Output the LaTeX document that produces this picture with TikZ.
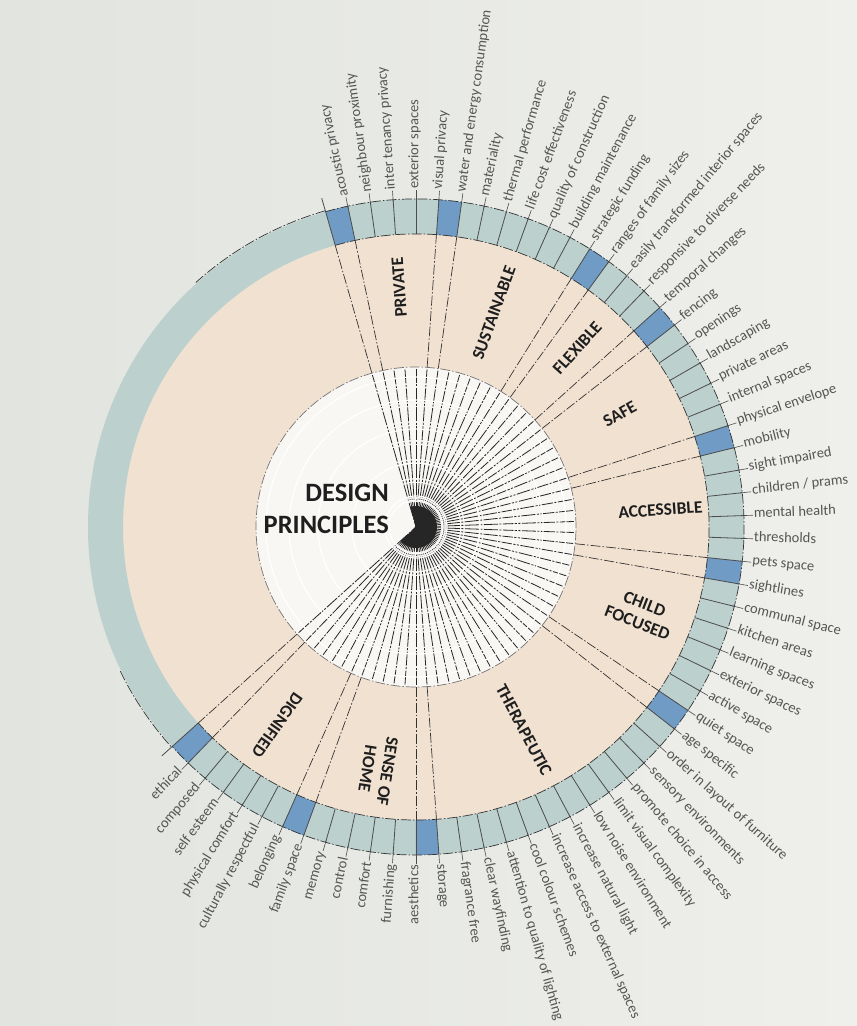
\documentclass[tikz,border=0pt]{standalone}
\usepackage{fontspec}
\setmainfont{Carlito}
\definecolor{bgleft}{RGB}{225,228,223}
\definecolor{bgright}{RGB}{239,239,235}
\definecolor{peach}{RGB}{241,225,209}
\definecolor{ringteal}{RGB}{188,208,206}
\definecolor{cellblue}{RGB}{111,155,196}
\definecolor{core}{RGB}{249,247,244}
\definecolor{ink}{RGB}{30,30,30}
\definecolor{labelgray}{RGB}{85,85,85}
\tikzset{
  dashdot/.style={line width=0.7pt,draw=black!80,dash pattern=on 10pt off 2pt on 1.5pt off 2pt},
  cellline/.style={draw=black!70,line width=0.8pt},
  spoke/.style={draw=black!85,line width=0.8pt,dash pattern=on 14pt off 1.5pt on 2pt off 1.5pt},
  item/.style={text=labelgray,font=\fontsize{14.5}{16}\selectfont,inner sep=1pt},
  group/.style={text=ink,font=\bfseries\fontsize{17.5}{20}\selectfont,align=center,inner sep=0pt},
}
\begin{document}
\begin{tikzpicture}[x=1pt,y=1pt]
\shade[left color=bgleft,right color=bgright] (-416,-499) rectangle (441,527);
\useasboundingbox (-416,-499) rectangle (441,527);
\fill[peach] (0,0) circle[radius=293];
\fill[ringteal,even odd rule] (0,0) circle[radius=328] (0,0) circle[radius=293];
\foreach \d in {1,6,13,17,23,29,36,49,55,61}
  \fill[cellblue] ({110-4*\d}:293) arc[start angle={110-4*\d},end angle={106-4*\d},radius=293]
    -- ({106-4*\d}:328) arc[start angle={106-4*\d},end angle={110-4*\d},radius=328] -- cycle;
\foreach \k in {0,...,61}
  \draw[cellline] ({106-4*\k}:293) -- ({106-4*\k}:328);
\draw[cellline] (106:328) -- (106:342);
\draw[cellline] (-138:328) -- (-138:342);
\draw[dashdot] (106:293) arc[start angle=106,end angle=-138,radius=293];
\draw[dashdot] (106:328) arc[start angle=106,end angle=-138,radius=328];
\draw[dashdot] (106:329) arc[start angle=106,end angle=132,radius=329];
\draw[dashdot] (206:329) arc[start angle=206,end angle=222,radius=329];
\foreach \b in {0,1,5,6,12,13,16,17,22,23,28,29,35,36,48,49,54,55,60,61}
  \draw[dashdot] ({106-4*\b}:160) -- ({106-4*\b}:293);
\fill[core] (0,0) circle[radius=160];
\foreach \k in {0,...,61}
  \draw[spoke] ({106-4*\k}:158) -- (0,0);
\fill[black!85] (0,0) -- (106:21) arc[start angle=106,end angle=-138,radius=21] -- cycle;
\foreach \r in {27,31,64,98,127,150}
  \draw[white,line width=1.2pt] (0,0) circle[radius=\r];
\draw[dashdot,draw=black!55] (0,0) circle[radius=160];
\node[text=ink,font=\bfseries\fontsize{26.5}{32}\selectfont,align=right,anchor=east,inner sep=0pt] (title) at (-27,18) {DESIGN\\PRINCIPLES};
\foreach \name/\ang/\rad/\txt in {private/94/240/PRIVATE,sustainable/70/228/SUSTAINABLE,flexible/48/241/FLEXIBLE,safe/29/233/SAFE,accessible/4/245/ACCESSIBLE,child/-21/241/{CHILD\\FOCUSED},therapeutic/-62/230/THERAPEUTIC,home/-99/246/{SENSE OF\\HOME},dignified/-125/242/DIGNIFIED}
  \node[group,rotate=\ang] (\name) at (\ang:\rad) {\txt};
\foreach \txt [count=\j] in {acoustic privacy,neighbour proximity,inter tenancy privacy,exterior spaces,visual privacy,
  water and energy consumption,materiality,thermal performance,life cost effectiveness,quality of construction,building maintenance,strategic funding,
  ranges of family sizes,easily transformed interior spaces,responsive to diverse needs,temporal changes,
  fencing,openings,landscaping,private areas,internal spaces,physical envelope,
  mobility,sight impaired,{children / prams},mental health,thresholds,pets space,
  sightlines,communal space,kitchen areas,learning spaces,exterior spaces,active space,quiet space,
  age specific,order in layout of furniture,sensory environments,promote choice in access,limit visual complexity,low noise environment,increase natural light,increase access to external spaces,cool colour schemes,attention to quality of lighting,clear wayfinding,fragrance free,storage,
  aesthetics,furnishing,comfort,control,memory,family space,
  belonging,culturally respectful,physical comfort,self esteem,composed,ethical}{
  \pgfmathsetmacro\a{106-4*\j}
  \pgfmathtruncatemacro\flip{\a < -88 ? 1 : 0}
  \ifnum\flip=0
    \node[item,rotate=\a,anchor=mid west] (l\j) at (\a:337) {\txt};
    \draw[cellline,line width=0.6pt] (\a:326) -- (l\j.mid west);
  \else
    \node[item,rotate={\a+180},anchor=mid east] (l\j) at (\a:337) {\txt};
    \draw[cellline,line width=0.6pt] (\a:326) -- (l\j.mid east);
  \fi
}
\end{tikzpicture}
\end{document}
